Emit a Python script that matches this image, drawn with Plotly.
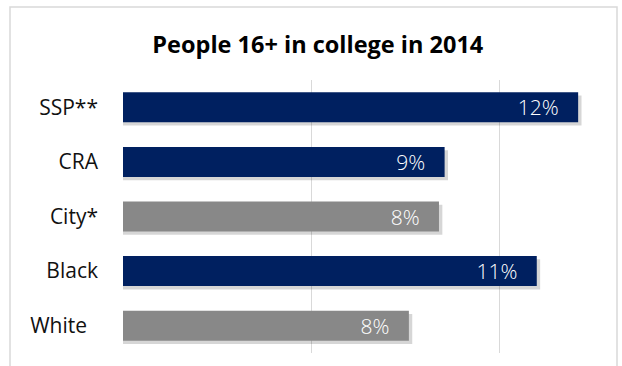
import plotly.graph_objects as go

categories = ["SSP**", "CRA", "City*", "Black", "White\u00a0\u00a0"]
values = [0.121, 0.0855, 0.084, 0.110, 0.076]
labels = ["12%", "9%", "8%", "11%", "8%"]
colors = ["#002060", "#002060", "#888888", "#002060", "#888888"]
title_text = "People 16+ in college in 2014"

FONT = "Open Sans"
BAR_W = 0.55

fig = go.Figure()

# soft shadow behind bars
fig.add_trace(go.Bar(
    y=categories, x=[v + 0.0009 for v in values], orientation="h",
    width=BAR_W, offset=-BAR_W / 2 + 0.06,
    marker=dict(color="rgba(0,0,0,0.16)", line=dict(width=0)),
    hoverinfo="skip", showlegend=False,
))

fig.add_trace(go.Bar(
    y=categories, x=values, orientation="h",
    width=BAR_W, offset=-BAR_W / 2,
    marker=dict(color=colors, line=dict(width=0)),
    text=[t + "\u00a0\u00a0\u00a0" for t in labels],
    textposition="inside", insidetextanchor="end", constraintext="none",
    textfont=dict(family=FONT, size=21, color="white", weight=300),
    textangle=0,
    showlegend=False,
))

fig.update_layout(
    width=622, height=366,
    margin=dict(l=123, r=10, t=80, b=13),
    paper_bgcolor="white", plot_bgcolor="white",
    barmode="overlay",
    title=dict(text=f"<b>{title_text}</b>", x=0.511, xref="container", xanchor="center",
               y=1 - 45 / 366, yref="container", yanchor="middle",
               font=dict(family=FONT, size=23.5, color="black")),
    xaxis=dict(range=[0, 0.13], dtick=0.05, tick0=0, showgrid=True, gridcolor="#d9d9d9",
               gridwidth=1, zeroline=False, showticklabels=False, showline=False, fixedrange=True),
    yaxis=dict(autorange="reversed", showgrid=False, zeroline=False, showline=False,
               tickfont=dict(family=FONT, size=21, color="#111111"), ticks="",
               ticklabelstandoff=24),
    shapes=[dict(type="rect", xref="paper", yref="paper",
                 x0=(10 - 123) / 489, x1=(617 - 123) / 489,
                 y0=(353 - 372) / 273, y1=(353 - 7) / 273,
                 line=dict(color="#d9d9d9", width=1.5), fillcolor="rgba(0,0,0,0)", layer="below")],
)

fig.write_html("out.html")
